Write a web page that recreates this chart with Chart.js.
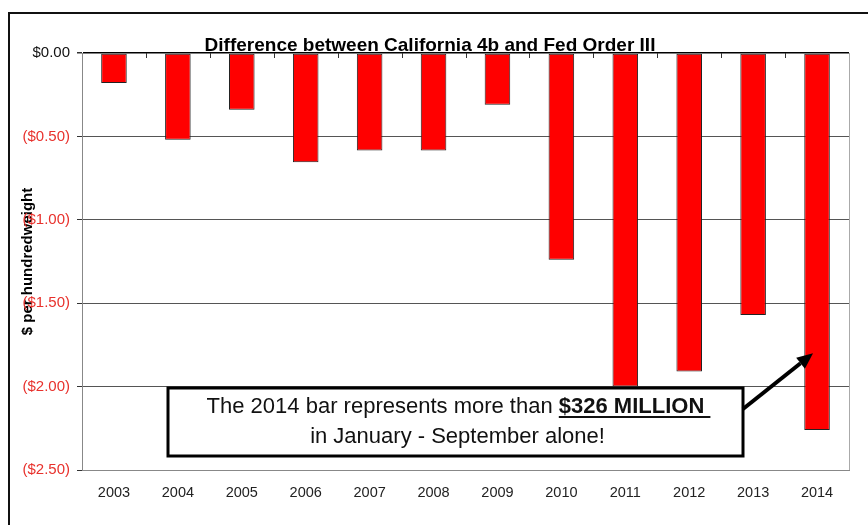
<!DOCTYPE html>
<html>
<head>
<meta charset="utf-8">
<script src="https://cdn.jsdelivr.net/npm/chart.js@4.4.1/dist/chart.umd.min.js"></script>
<style>
  html, body { margin: 0; padding: 0; background: #fff; }
  #wrap { width: 868px; height: 525px; }
</style>
</head>
<body>
<div id="wrap"><canvas id="c" width="868" height="525"></canvas></div>
<script>
const chartTitle = "Difference between California 4b and Fed Order III";
const yAxisTitle = "$ per hundredweight";
const years = ["2003","2004","2005","2006","2007","2008","2009","2010","2011","2012","2013","2014"];
const difference = [-0.18, -0.52, -0.34, -0.655, -0.585, -0.585, -0.31, -1.24, -2.0, -1.91, -1.57, -2.26];
const yMin = -2.5, yMax = 0, yStep = 0.5;
const noteLine1a = "The 2014 bar represents more than ";
const noteLine1b = "$326 MILLION";
const noteLine2 = "in January - September alone!";
const arrowTarget = { index: 11, value: -1.8 };

const FONT = '"Liberation Sans", Arial, sans-serif';

function fmtMoney(v) {
  const s = '$' + Math.abs(v).toFixed(2);
  return v < 0 ? '(' + s + ')' : s;
}

const decor = {
  id: 'decor',
  afterDraw(chart) {
    const ctx = chart.ctx;
    const area = chart.chartArea;
    const xs = chart.scales.x, ys = chart.scales.y;
    ctx.save();
    // outer frame
    ctx.strokeStyle = '#111';
    ctx.lineWidth = 2;
    ctx.beginPath();
    ctx.moveTo(9, 525);
    ctx.lineTo(9, 13);
    ctx.lineTo(868, 13);
    ctx.stroke();
    // right plot border
    ctx.strokeStyle = '#aaa';
    ctx.lineWidth = 1;
    ctx.beginPath();
    ctx.moveTo(Math.round(area.right) + 0.5, area.top);
    ctx.lineTo(Math.round(area.right) + 0.5, area.bottom);
    ctx.stroke();
    // tick marks on the zero line at category boundaries
    const y0 = ys.getPixelForValue(0);
    ctx.strokeStyle = '#333';
    for (let i = 0; i < years.length - 1; i++) {
      const bx = Math.round((xs.getPixelForValue(i) + xs.getPixelForValue(i + 1)) / 2) + 0.5;
      ctx.beginPath();
      ctx.moveTo(bx, y0);
      ctx.lineTo(bx, y0 + 5);
      ctx.stroke();
    }
    // title
    ctx.fillStyle = '#000';
    ctx.font = 'bold 19px ' + FONT;
    ctx.textAlign = 'center';
    ctx.textBaseline = 'alphabetic';
    ctx.fillText(chartTitle, 430, 51);

    // annotation box
    const bx0 = 168, by0 = 388, bx1 = 743, by1 = 456;
    ctx.fillStyle = '#fff';
    ctx.fillRect(bx0, by0, bx1 - bx0, by1 - by0);
    ctx.strokeStyle = '#000';
    ctx.lineWidth = 3;
    ctx.strokeRect(bx0, by0, bx1 - bx0, by1 - by0);
    const cx = (bx0 + bx1) / 2 + 3;
    ctx.font = '22px ' + FONT;
    const wa = ctx.measureText(noteLine1a).width;
    ctx.font = 'bold 22px ' + FONT;
    const wb = ctx.measureText(noteLine1b).width;
    const wsp = ctx.measureText(' ').width;
    const startX = cx - (wa + wb + wsp) / 2;
    const base1 = 413;
    ctx.textAlign = 'left';
    ctx.fillStyle = '#111';
    ctx.font = '22px ' + FONT;
    ctx.fillText(noteLine1a, startX, base1);
    ctx.font = 'bold 22px ' + FONT;
    ctx.fillText(noteLine1b, startX + wa, base1);
    ctx.fillRect(startX + wa, base1 + 3, wb + wsp, 2);
    ctx.font = '22px ' + FONT;
    ctx.textAlign = 'center';
    ctx.fillText(noteLine2, cx - 1, 443);

    // arrow
    const tx = xs.getPixelForValue(arrowTarget.index) - 4;
    const ty = ys.getPixelForValue(arrowTarget.value);
    const sx = bx1, sy = 409;
    const ang = Math.atan2(ty - sy, tx - sx);
    const headLen = 16, headW = 7;
    const hx = tx - headLen * Math.cos(ang), hy = ty - headLen * Math.sin(ang);
    ctx.strokeStyle = '#000';
    ctx.lineWidth = 4;
    ctx.beginPath();
    ctx.moveTo(sx, sy);
    ctx.lineTo(hx, hy);
    ctx.stroke();
    ctx.fillStyle = '#000';
    ctx.beginPath();
    ctx.moveTo(tx, ty);
    ctx.lineTo(hx + headW * Math.sin(ang), hy - headW * Math.cos(ang));
    ctx.lineTo(hx - headW * Math.sin(ang), hy + headW * Math.cos(ang));
    ctx.closePath();
    ctx.fill();
    ctx.restore();
  }
};

new Chart(document.getElementById('c'), {
  type: 'bar',
  data: {
    labels: years,
    datasets: [{
      data: difference,
      backgroundColor: '#ff0000',
      borderColor: '#222',
      borderWidth: 1,
      borderSkipped: false,
      barPercentage: 0.4,
      categoryPercentage: 1.0
    }]
  },
  options: {
    responsive: false,
    animation: false,
    devicePixelRatio: 1,
    layout: { padding: { left: 0, right: 19, top: 53, bottom: 25 } },
    plugins: { legend: { display: false }, tooltip: { enabled: false }, title: { display: false } },
    scales: {
      x: {
        offset: true,
        grid: { display: false, drawTicks: false, tickLength: 0 },
        border: { display: true, color: '#888', width: 1 },
        ticks: { color: '#222', font: { family: FONT, size: 14.5 }, padding: 14, maxRotation: 0 },
        afterFit(s) { s.height = 30; }
      },
      y: {
        min: yMin, max: yMax,
        ticks: {
          stepSize: yStep,
          color: (c) => (c.tick && c.tick.value === 0 ? '#111' : '#e8312c'),
          font: { family: FONT, size: 15 },
          padding: 7,
          callback: (v) => fmtMoney(v)
        },
        grid: {
          color: (c) => {
            if (!c.tick) return '#555';
            if (c.tick.value === 0) return '#000';
            if (c.tick.value === c.scale.min) return '#888';
            return '#555';
          },
          lineWidth: (c) => (c.tick && c.tick.value === 0 ? 1.5 : 1),
          tickLength: 5,
          tickColor: '#333'
        },
        border: { display: true, color: '#888', width: 1 },
        title: {
          display: true,
          text: yAxisTitle,
          color: '#000',
          font: { family: FONT, size: 15, weight: 'bold' },
          padding: { top: 19, bottom: 0 }
        },
        afterFit(s) { s.width = 82; }
      }
    }
  },
  plugins: [decor]
});
</script>
</body>
</html>
